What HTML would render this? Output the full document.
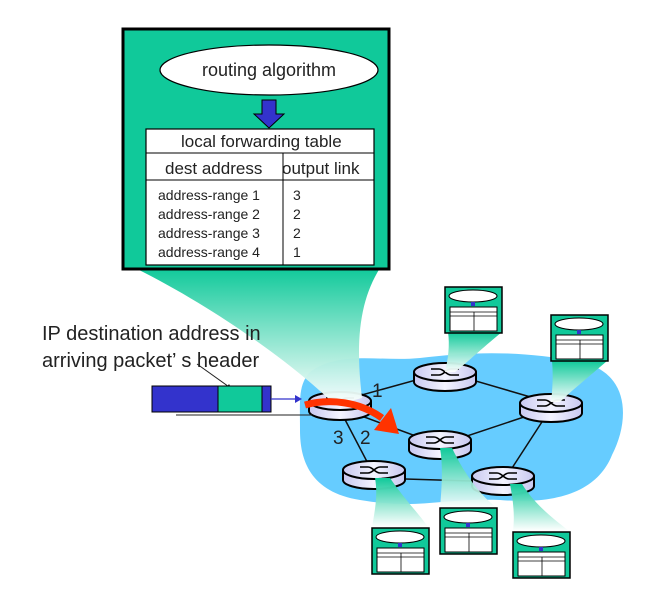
<!DOCTYPE html>
<html><head><meta charset="utf-8"><style>
html,body{margin:0;padding:0;background:#fff;}
svg{display:block;font-family:"Liberation Sans",Arial,sans-serif;}
</style></head><body>
<svg width="672" height="595" viewBox="0 0 672 595" xmlns="http://www.w3.org/2000/svg">
<defs>
<linearGradient id="gb" x1="0" y1="0" x2="0" y2="1">
<stop offset="0" stop-color="#10c99a"/><stop offset="1" stop-color="#ffffff" stop-opacity="0.95"/></linearGradient>
<linearGradient id="gu" x1="0" y1="1" x2="0" y2="0">
<stop offset="0" stop-color="#ffffff" stop-opacity="0.9"/><stop offset="1" stop-color="#10c99a"/></linearGradient>
<linearGradient id="rt" x1="0" y1="0" x2="1" y2="0">
<stop offset="0" stop-color="#c8c8f0"/><stop offset="0.5" stop-color="#f4f4ff"/><stop offset="1" stop-color="#c8c8f0"/></linearGradient>
<g id="router">
<path d="M-31,0 v10 a31,9 0 0 0 62,0 v-10" fill="url(#rt)" stroke="#000" stroke-width="2"/>
<ellipse cx="0" cy="0" rx="31" ry="9" fill="url(#rt)" stroke="#000" stroke-width="2"/>
<path d="M-14,-3 h8 c5,0 7,6 12,6 h8 M-14,3 h8 c5,0 7,-6 12,-6 h8" fill="none" stroke="#000" stroke-width="1.6"/>
</g>
<g id="tbl">
<rect x="0" y="0" width="57" height="46" fill="#10c99a" stroke="#000" stroke-width="1.5"/>
<ellipse cx="28" cy="9" rx="24" ry="6" fill="#fff" stroke="#000" stroke-width="1"/>
<rect x="26" y="15" width="4" height="4" fill="#3333cc"/>
<rect x="5" y="20" width="47" height="24" fill="#fff" stroke="#000" stroke-width="1"/>
<line x1="5" y1="25" x2="52" y2="25" stroke="#000" stroke-width="0.8"/>
<line x1="5" y1="29" x2="52" y2="29" stroke="#000" stroke-width="0.8"/>
<line x1="29" y1="25" x2="29" y2="44" stroke="#000" stroke-width="0.8"/>
</g>
</defs>

<path d="M310,372 C340,350 380,362 420,358 C470,352 520,350 580,362 C630,372 630,420 612,455 C598,490 560,505 500,500 C440,498 420,510 360,500 C310,492 300,460 300,430 C300,400 298,385 310,372 Z" fill="#66ccff"/>

<g stroke="#111" stroke-width="1.5">
<line x1="340" y1="401" x2="445" y2="372"/>
<line x1="445" y1="372" x2="551" y2="403"/>
<line x1="340" y1="408" x2="440" y2="445"/>
<line x1="440" y1="445" x2="551" y2="408"/>
<line x1="551" y1="408" x2="503" y2="482"/>
<line x1="374" y1="478" x2="503" y2="482"/>
<line x1="340" y1="410" x2="374" y2="475"/>
</g>

<use href="#router" x="445" y="372"/>
<use href="#router" x="551" y="403"/>
<use href="#router" x="440" y="440"/>
<use href="#router" x="374" y="470"/>
<use href="#router" x="503" y="476"/>
<use href="#router" x="340" y="401"/>

<path d="M448,332 L502,332 C480,350 470,360 455,372 L445,372 C448,360 450,345 448,332Z" fill="url(#gb)"/>
<path d="M552,361 L607,361 C585,380 570,392 560,402 L551,402 C553,385 553,372 552,361Z" fill="url(#gb)"/>
<path d="M375,478 L390,478 C405,500 420,515 428,527 L372,527 C375,510 378,495 375,478Z" fill="url(#gu)"/>
<path d="M440,448 L452,448 C465,475 480,495 497,508 L440,508 C442,485 443,465 440,448Z" fill="url(#gu)"/>
<path d="M510,484 L522,484 C535,505 555,520 569,531 L513,531 C515,515 513,500 510,484Z" fill="url(#gu)"/>

<use href="#tbl" x="445" y="287"/>
<use href="#tbl" x="551" y="315"/>
<use href="#tbl" x="372" y="528"/>
<use href="#tbl" x="440" y="508"/>
<use href="#tbl" x="513" y="532"/>

<path d="M135,268 L380,268 C360,300 355,340 362,398 L335,405 C300,370 220,310 135,268Z" fill="url(#gb)"/>

<rect x="123" y="29" width="266" height="240" fill="#10c99a" stroke="#000" stroke-width="3"/>
<ellipse cx="269" cy="70" rx="109" ry="25" fill="#fff" stroke="#000" stroke-width="1.2"/>
<text x="269" y="76" font-size="18" text-anchor="middle" fill="#222">routing algorithm</text>
<path d="M262,100 h14 v14 h8 l-15,14 l-15,-14 h8z" fill="#3333cc" stroke="#000" stroke-width="1"/>
<rect x="146" y="129" width="228" height="136" fill="#fff" stroke="#000" stroke-width="1.2"/>
<line x1="146" y1="153" x2="374" y2="153" stroke="#000" stroke-width="1"/>
<line x1="146" y1="180" x2="374" y2="180" stroke="#000" stroke-width="1"/>
<line x1="283" y1="153" x2="283" y2="265" stroke="#000" stroke-width="1"/>
<text x="181" y="147" font-size="17" fill="#222">local forwarding table</text>
<text x="165" y="174" font-size="17" fill="#222">dest address</text>
<text x="282" y="174" font-size="17" fill="#222">output  link</text>
<g font-size="14" fill="#222">
<text x="158" y="200">address-range 1</text><text x="293" y="200">3</text>
<text x="158" y="219">address-range 2</text><text x="293" y="219">2</text>
<text x="158" y="238">address-range 3</text><text x="293" y="238">2</text>
<text x="158" y="257">address-range 4</text><text x="293" y="257">1</text>
</g>

<g font-size="20" fill="#222">
<text x="42" y="340">IP destination address in</text>
<text x="42" y="367">arriving packet’ s header</text>
</g>
<line x1="197" y1="364" x2="232" y2="389" stroke="#222" stroke-width="1"/>
<path d="M232,389 l-6,-1 l3,-4z" fill="#222"/>

<rect x="152" y="386" width="66" height="26" fill="#3333cc" stroke="#000" stroke-width="1"/>
<rect x="218" y="386" width="44" height="26" fill="#10c99a" stroke="#000" stroke-width="1"/>
<rect x="262" y="386" width="9" height="26" fill="#3333cc" stroke="#000" stroke-width="1"/>
<line x1="271" y1="399" x2="296" y2="399" stroke="#3333cc" stroke-width="1.2"/>
<path d="M302,399 l-7,-4 v8z" fill="#3333cc"/>
<line x1="176" y1="415" x2="312" y2="415" stroke="#222" stroke-width="1"/>

<path d="M305,405 C330,398 360,402 382,418" fill="none" stroke="#ff3300" stroke-width="7"/>
<path d="M391,408 L374,430 L399,434 Z" fill="#ff3300"/>

<g font-size="19" fill="#222">
<text x="372" y="397">1</text>
<text x="360" y="444">2</text>
<text x="333" y="444">3</text>
</g>
</svg>
</body></html>
